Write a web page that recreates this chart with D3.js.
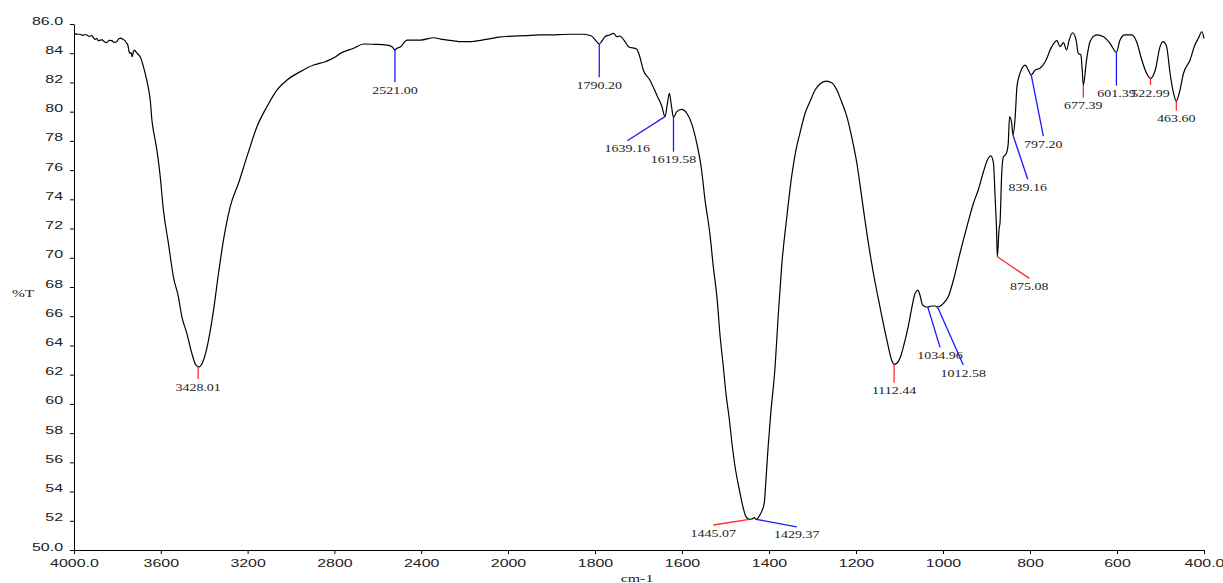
<!DOCTYPE html>
<html lang="en">
<head>
<meta charset="UTF-8">
<title>IR spectrum %T</title>
<script src="https://d3js.org/d3.v7.min.js"></script>
<style>
    body { margin: 0; background: #fff; }
    svg { display: block; font-family: "Liberation Serif", "Times New Roman", serif; }
    .axis path, .axis line { stroke: #000; stroke-width: 1; }
    .axis text { fill: #222; font-size: 11px; }
</style>
</head>
<body>
<svg id="chart" width="1223" height="583"></svg>
<script>
// spectrum, wavenumber (cm-1) and transmittance (%T)
const wavenumbers = [4000, 3985, 3972, 3960, 3950, 3941, 3930, 3918, 3910, 3903, 3895, 3888, 3880, 3870, 3860, 3849, 3838, 3826, 3815, 3803,
    3794, 3784, 3775, 3765, 3758, 3752, 3746, 3742, 3737, 3732, 3727, 3722, 3717, 3711, 3703, 3695, 3680, 3665, 3657, 3648,
    3641, 3629, 3618, 3603, 3588, 3565, 3542, 3519, 3503, 3480, 3457, 3440, 3434, 3428, 3422, 3412, 3403, 3380, 3357, 3334,
    3311, 3280, 3242, 3203, 3157, 3111, 3065, 3018, 2957, 2896, 2842, 2800, 2772, 2711, 2665, 2619, 2557, 2535, 2526, 2521,
    2515, 2495, 2465, 2403, 2342, 2311, 2250, 2219, 2172, 2120, 2080, 2040, 2000, 1960, 1926, 1911, 1857, 1827, 1808, 1796,
    1790.2, 1785, 1777, 1766, 1757, 1750, 1743, 1731, 1723, 1704, 1697, 1689, 1674, 1658, 1646, 1639.16, 1634, 1629, 1624, 1619.58,
    1612, 1601, 1589, 1578, 1566, 1555, 1547, 1536, 1528, 1519, 1513, 1505, 1499, 1491, 1486, 1478, 1468, 1459, 1453, 1445.07,
    1440, 1434, 1429.37, 1419, 1411, 1407, 1402, 1396, 1386, 1379, 1371, 1359, 1348, 1338, 1329, 1317, 1306, 1294, 1283,
    1269, 1255, 1244, 1233, 1221, 1210, 1198, 1187, 1175, 1160, 1145, 1129, 1118, 1112.44, 1106, 1099, 1091, 1080, 1072, 1064,
    1058, 1053, 1047, 1041, 1034.96, 1026, 1018, 1012.58, 999, 988, 976, 961, 945, 930, 919, 907, 896, 890, 884, 880,
    877, 875.08, 871, 869, 865, 861, 857, 853, 850, 847, 842, 839.16, 834, 830, 823, 811, 804, 797.2, 788, 777,
    765, 750, 738, 731, 723, 716, 710, 702, 694, 689, 683, 680, 677.39, 670, 662, 647, 631, 616, 601.39, 593,
    582, 566, 555, 543, 532, 522.99, 512, 501, 494, 486, 478, 470, 463.6, 457, 447, 432, 421, 413, 405, 400];

const transmittance = [85.36, 85.30, 85.30, 85.22, 85.28, 85.25, 85.15, 85.20, 85.05, 84.95, 85.02, 84.85, 84.90, 84.92, 84.78, 84.72, 84.88, 84.86, 84.74, 84.79,
    84.98, 85.04, 84.95, 84.86, 84.70, 84.56, 84.10, 83.99, 84.05, 83.76, 84.05, 84.22, 84.15, 84.04, 83.90, 83.76, 83.08, 82.17, 81.60, 80.70,
    79.43, 78.30, 77.37, 75.60, 73.27, 71.00, 68.70, 67.33, 65.97, 64.83, 63.46, 62.70, 62.60, 62.55, 62.54, 62.70, 63.00, 64.37, 66.42, 68.94,
    71.22, 73.50, 75.10, 76.92, 78.97, 80.34, 81.48, 82.17, 82.74, 83.19, 83.42, 83.70, 83.99, 84.34, 84.63, 84.61, 84.56, 84.45, 84.30, 84.22,
    84.30, 84.45, 84.90, 84.90, 85.06, 84.97, 84.85, 84.79, 84.79, 84.90, 85.00, 85.10, 85.15, 85.20, 85.25, 85.25, 85.30, 85.30, 85.18, 84.79,
    84.63, 84.79, 85.13, 85.25, 85.36, 85.13, 85.18, 84.79, 84.45, 84.27, 83.76, 82.85, 82.17, 81.14, 80.34, 79.66, 80.46, 81.26, 80.34, 79.61,
    80.00, 80.16, 79.89, 79.20, 77.83, 76.01, 73.95, 71.67, 69.38, 67.10, 64.83, 62.54, 60.72, 58.90, 57.53, 55.70, 54.10, 52.85, 52.28, 52.10,
    52.12, 52.21, 52.10, 52.51, 53.19, 54.79, 57.07, 59.35, 62.54, 65.97, 69.38, 72.81, 75.55, 77.38, 78.52, 79.89, 80.68, 81.48, 81.89,
    82.09, 81.96, 81.48, 80.66, 79.66, 78.29, 76.47, 74.18, 71.67, 68.94, 66.65, 64.37, 63.00, 62.70, 62.78, 63.12, 63.91, 65.28, 66.54, 67.57,
    67.79, 67.45, 66.77, 66.65, 66.63, 66.70, 66.70, 66.63, 66.88, 67.33, 68.48, 70.31, 72.13, 73.73, 74.64, 75.89, 76.81, 76.97, 76.47, 74.00,
    72.00, 70.07, 72.00, 72.36, 75.78, 76.92, 77.03, 77.26, 77.83, 79.66, 79.20, 78.40, 79.66, 81.71, 82.63, 83.19, 82.85, 82.51, 82.85, 82.97,
    83.42, 84.45, 84.86, 84.45, 84.72, 84.22, 84.90, 85.40, 84.90, 83.99, 83.88, 82.85, 81.82, 83.54, 84.79, 85.25, 85.13, 84.68, 84.06, 84.90,
    85.25, 85.25, 84.79, 83.54, 82.63, 82.28, 82.85, 84.45, 84.79, 84.45, 82.63, 81.26, 80.73, 81.26, 82.63, 83.54, 84.56, 85.02, 85.47, 85.02];

// peak picks: label, peak position, end of the leader line (both in cm-1 / %T), colour
const peakLabels = ["3428.01", "2521.00", "1790.20", "1639.16", "1619.58", "1445.07", "1429.37", "1112.44", "1034.96",
    "1012.58", "875.08", "839.16", "797.20", "677.39", "601.39", "522.99", "463.60"];
const peakW = [3428.01, 2521.00, 1790.20, 1639.16, 1619.58, 1445.07, 1429.37, 1112.44, 1034.96,
    1012.58, 875.08, 839.16, 797.20, 677.39, 601.39, 522.99, 463.60];
const peakT = [62.55, 84.22, 84.63, 79.66, 79.61, 52.10, 52.10, 62.70, 66.63,
    66.63, 70.07, 78.40, 82.51, 81.82, 84.06, 82.28, 80.73];
const leaderW = [3428.01, 2521.00, 1790.20, 1725.7, 1619.58, 1528, 1336.3, 1112.44, 1006.8,
    953.3, 801.5, 805.2, 769.3, 677.39, 601.39, 522.99, 463.60];
const leaderT = [61.70, 82.03, 82.35, 78.01, 77.26, 51.71, 51.59, 61.45, 63.87,
    62.66, 68.59, 75.37, 78.33, 80.96, 81.78, 81.82, 80.07];
const peakColor = ["r", "b", "b", "b", "b", "r", "b", "r", "b", "b", "r", "b", "b", "r", "b", "r", "r"];

const xTicks = [4000, 3600, 3200, 2800, 2400, 2000, 1800, 1600, 1400, 1200, 1000, 800, 600, 400];
const yTicks = [50, 52, 54, 56, 58, 60, 62, 64, 66, 68, 70, 72, 74, 76, 78, 80, 82, 84, 86];

const svg = d3.select("#chart");

// scale change at 2000 cm-1, as on the instrument printout
const x = d3.scaleLinear().domain([4000, 2000, 400]).range([74, 508, 1204]);
const y = d3.scaleLinear().domain([50, 86]).range([550, 24]);

const stretch = 1.45;   // the printout's text is stretched sideways

const xAxis = svg.append("g").attr("class", "axis")
    .attr("transform", "translate(0,550)")
    .call(d3.axisBottom(x).tickValues(xTicks).tickSize(4).tickSizeOuter(0)
        .tickFormat(d => (d === 4000 || d === 400) ? d.toFixed(1) : d));
xAxis.selectAll("text").attr("y", 17.5).attr("dy", 0)
    .attr("transform", `scale(${stretch},1)`);

const yAxis = svg.append("g").attr("class", "axis")
    .attr("transform", "translate(74,0)")
    .call(d3.axisLeft(y).tickValues(yTicks).tickSize(4).tickSizeOuter(0)
        .tickFormat(d => (d === 50 || d === 86) ? d.toFixed(1) : d));
yAxis.selectAll("text").attr("x", null).attr("dy", 0)
    .attr("transform", `translate(-11,0) scale(${stretch},1)`);

svg.append("text").attr("transform", `translate(12,297) scale(1.4,1)`)
    .attr("font-size", 11).attr("fill", "#222").text("%T");
svg.append("text").attr("transform", `translate(637,582) scale(${stretch},1)`)
    .attr("text-anchor", "middle").attr("font-size", 11).attr("fill", "#222").text("cm-1");

const spectrum = wavenumbers.map((w, i) => [w, transmittance[i]]);
const line = d3.line().x(d => x(d[0])).y(d => y(d[1])).curve(d3.curveMonotoneX);

svg.append("path").datum(spectrum)
    .attr("d", line)
    .attr("fill", "none")
    .attr("stroke", "#000")
    .attr("stroke-width", 1.2);

const peaks = peakLabels.map((label, i) => ({
    label, w: peakW[i], t: peakT[i], ew: leaderW[i], et: leaderT[i],
    color: peakColor[i] === "r" ? "#ff2a2a" : "#1a1aff"
}));

const pk = svg.append("g").selectAll("g").data(peaks).enter().append("g");
pk.append("line")
    .attr("x1", d => x(d.w)).attr("y1", d => y(d.t))
    .attr("x2", d => x(d.ew)).attr("y2", d => y(d.et))
    .attr("stroke", d => d.color).attr("stroke-width", 1.3);
pk.append("text")
    .attr("transform", d => `translate(${x(d.ew)},${y(d.et) + 11.5}) scale(1.4,1)`)
    .attr("text-anchor", "middle")
    .attr("font-size", 10)
    .attr("fill", "#222")
    .text(d => d.label);
</script>
</body>
</html>
